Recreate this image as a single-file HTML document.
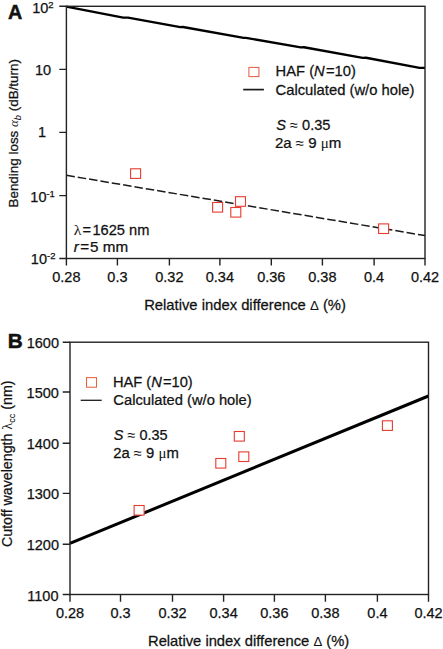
<!DOCTYPE html>
<html>
<head>
<meta charset="utf-8">
<style>
html,body{margin:0;padding:0;background:#fff;}
body{width:443px;height:649px;overflow:hidden;}
svg{display:block;}
text{font-family:"Liberation Sans", sans-serif;fill:#111;stroke:#111;stroke-width:0.25;}
.t{font-size:14.5px;}
.sup{font-size:9.5px;}
.gr{font-family:"Liberation Serif", serif;}
.lab{font-size:14.5px;}
.pan{font-size:20px;font-weight:bold;stroke:#111;stroke-width:0.5;}
.ax{stroke:#222;stroke-width:1.4;fill:none;}
.sq{stroke:#e63b2e;stroke-width:1.1;fill:#fff;}
.sql{stroke:#e8623e;stroke-width:1.05;fill:#fff;}
</style>
</head>
<body>
<svg width="443" height="649" viewBox="0 0 443 649">
<rect width="443" height="649" fill="#fff"/>
<text id="panA" class="pan" style="font-size:20.5px" transform="translate(7.97 18.50) scale(0.9650 1)">A</text>
<polyline fill="none" stroke="#000" stroke-width="2.4" stroke-linejoin="round" points="66.4,6.6 123.2,17.6 128,17.6 180.3,27.1 183,27 243.7,37.9 246,37.9 300.8,47.4 304,47.2 362.7,57.9 366,57.8 419.6,67.9 425.0,67.9"/>
<line x1="66.4" y1="175.3" x2="425.0" y2="235.6" stroke="#1a1a1a" stroke-width="1.5" stroke-dasharray="8.5 3"/>
<rect class="ax" x="66.4" y="6.3" width="358.60" height="252.20"/>
<path class="ax" d="M59.30 6.30H66.4M59.30 69.40H66.4M59.30 132.40H66.4M59.30 195.60H66.4M59.30 258.50H66.4M66.40 258.5V265.5M117.40 258.5V265.5M169.40 258.5V265.5M219.90 258.5V265.5M271.30 258.5V265.5M322.40 258.5V265.5M374.10 258.5V265.5M425.00 258.5V265.5"/>
<text id="yA0" class="t" transform="translate(32.17 12.60) scale(1.0000 1)">10<tspan class="sup" dy="-5">2</tspan></text>
<text id="yA1" class="t" transform="translate(35.03 74.90) scale(1.0000 1)">10</text>
<text id="yA2" class="t" transform="translate(38.06 137.40) scale(1.0000 1)">1</text>
<text id="yA3" class="t" transform="translate(30.32 201.70) scale(1.0000 1)">10<tspan class="sup" dy="-4.9">-1</tspan></text>
<text id="yA4" class="t" transform="translate(30.86 263.90) scale(1.0000 1)">10<tspan class="sup" dy="-5">-2</tspan></text>
<g class="t" text-anchor="middle">
<text x="66.40" y="281.6">0.28</text>
<text x="117.40" y="281.6">0.3</text>
<text x="169.40" y="281.6">0.32</text>
<text x="219.90" y="281.6">0.34</text>
<text x="271.30" y="281.6">0.36</text>
<text x="322.40" y="281.6">0.38</text>
<text x="374.10" y="281.6">0.4</text>
<text x="425.00" y="281.6">0.42</text>
</g>
<text id="xlabA" class="lab" transform="translate(144.13 309.60) scale(1.0206 1)">Relative index difference <tspan style="stroke-width:0;font-size:13px">Δ</tspan> (%)</text>
<text id="ylabA" class="lab" style="font-size:13px" transform="translate(17.90 207.53) rotate(-90) scale(1.0334 1)">Bending loss <tspan class="gr" font-style="italic" style="stroke-width:0;font-size:12.5px">α</tspan><tspan font-size="9" dy="3" font-style="italic" style="stroke-width:0">b</tspan><tspan dy="-3"> (dB/turn)</tspan></text>
<rect class="sql" x="248.9" y="67.4" width="10" height="9.2"/>
<line x1="243.2" y1="89.6" x2="263.9" y2="89.6" stroke="#1a1a1a" stroke-width="1.7"/>
<text id="hafA" class="t" transform="translate(275.60 76.20) scale(1.0157 1)">HAF (<tspan font-style="italic">N</tspan><tspan dx="1.2">=10)</tspan></text>
<text id="calcA" class="t" transform="translate(275.52 94.60) scale(1.0206 1)">Calculated (w/o hole)</text>
<text id="sA" class="t" transform="translate(276.23 129.60) scale(1.0067 1)"><tspan font-style="italic">S</tspan> <tspan style="stroke-width:0">≈</tspan> 0.35</text>
<text id="aA" class="t" transform="translate(274.88 147.70) scale(1.0391 1)">2a <tspan style="stroke-width:0">≈</tspan> 9 <tspan class="gr" style="stroke-width:0">μ</tspan>m</text>
<text id="lamA" class="t" transform="translate(73.67 235.30) scale(1.0099 1)"><tspan class="gr" style="stroke-width:0;font-size:15.5px">λ</tspan><tspan dx="1.3">=</tspan><tspan dx="1.3">1625 nm</tspan></text>
<text id="rA" class="t" transform="translate(73.85 251.60) scale(1.0507 1)"><tspan font-style="italic">r</tspan><tspan dx="1.3">=</tspan><tspan dx="0.8">5</tspan> mm</text>
<rect class="sq" x="130.60" y="168.80" width="10" height="9.6"/>
<rect class="sq" x="212.60" y="202.50" width="10" height="9.6"/>
<rect class="sq" x="230.80" y="207.50" width="10" height="9.6"/>
<rect class="sq" x="235.50" y="196.70" width="10" height="9.6"/>
<rect class="sq" x="378.60" y="223.90" width="10" height="9.6"/>
<text id="panB" class="pan" style="font-size:20.5px" transform="translate(7.72 348.00) scale(1.0119 1)">B</text>
<line x1="69.9" y1="543.4" x2="428.5" y2="396.0" stroke="#000" stroke-width="3"/>
<rect class="ax" x="70.0" y="342.2" width="358.50" height="252.30"/>
<path class="ax" d="M62.70 342.20H70.0M62.70 392.00H70.0M62.70 443.30H70.0M62.70 493.40H70.0M62.70 544.30H70.0M62.70 594.50H70.0M70.00 594.5V601.7M120.50 594.5V601.7M172.50 594.5V601.7M223.60 594.5V601.7M274.40 594.5V601.7M325.40 594.5V601.7M377.40 594.5V601.7M428.50 594.5V601.7"/>
<text id="yB0" class="t" transform="translate(26.70 348.10) scale(1.0000 1)">1600</text>
<text id="yB1" class="t" transform="translate(26.62 398.00) scale(1.0000 1)">1500</text>
<text id="yB2" class="t" transform="translate(26.70 449.10) scale(1.0000 1)">1400</text>
<text id="yB3" class="t" transform="translate(26.70 499.30) scale(1.0000 1)">1300</text>
<text id="yB4" class="t" transform="translate(26.70 550.10) scale(1.0000 1)">1200</text>
<text id="yB5" class="t" transform="translate(27.27 600.50) scale(1.0000 1)">1100</text>
<g class="t" text-anchor="middle">
<text x="70.00" y="617.6">0.28</text>
<text x="120.50" y="617.6">0.3</text>
<text x="172.50" y="617.6">0.32</text>
<text x="223.60" y="617.6">0.34</text>
<text x="274.40" y="617.6">0.36</text>
<text x="325.40" y="617.6">0.38</text>
<text x="377.40" y="617.6">0.4</text>
<text x="428.50" y="617.6">0.42</text>
</g>
<text id="xlabB" class="lab" transform="translate(147.98 645.50) scale(1.0180 1)">Relative index difference <tspan style="stroke-width:0;font-size:13px">Δ</tspan> (%)</text>
<text id="ylabB" class="lab" style="font-size:14px" transform="translate(11.70 547.01) rotate(-90) scale(1.0148 1)">Cutoff wavelength <tspan class="gr" style="stroke-width:0">λ</tspan><tspan font-size="9" dy="3" style="stroke-width:0.1">cc</tspan><tspan dy="-3"> (nm)</tspan></text>
<rect class="sql" x="86.5" y="377.6" width="10" height="9.6"/>
<line x1="80.7" y1="400.3" x2="101.7" y2="400.3" stroke="#1a1a1a" stroke-width="1.3"/>
<text id="hafB" class="t" transform="translate(112.89 386.60) scale(1.0120 1)">HAF (<tspan font-style="italic">N</tspan><tspan dx="1.2">=10)</tspan></text>
<text id="calcB" class="t" transform="translate(113.31 404.60) scale(1.0168 1)">Calculated (w/o hole)</text>
<text id="sB" class="t" transform="translate(113.87 440.10) scale(0.9978 1)"><tspan font-style="italic">S</tspan> <tspan style="stroke-width:0">≈</tspan> 0.35</text>
<text id="aB" class="t" transform="translate(113.13 457.50) scale(1.0259 1)">2a <tspan style="stroke-width:0">≈</tspan> 9 <tspan class="gr" style="stroke-width:0">μ</tspan>m</text>
<rect class="sq" x="134.10" y="505.50" width="10" height="9.6"/>
<rect class="sq" x="215.80" y="458.50" width="10" height="9.6"/>
<rect class="sq" x="234.30" y="431.50" width="10" height="9.6"/>
<rect class="sq" x="238.80" y="451.90" width="10" height="9.6"/>
<rect class="sq" x="382.40" y="420.80" width="10" height="9.6"/>
</svg>
</body>
</html>
